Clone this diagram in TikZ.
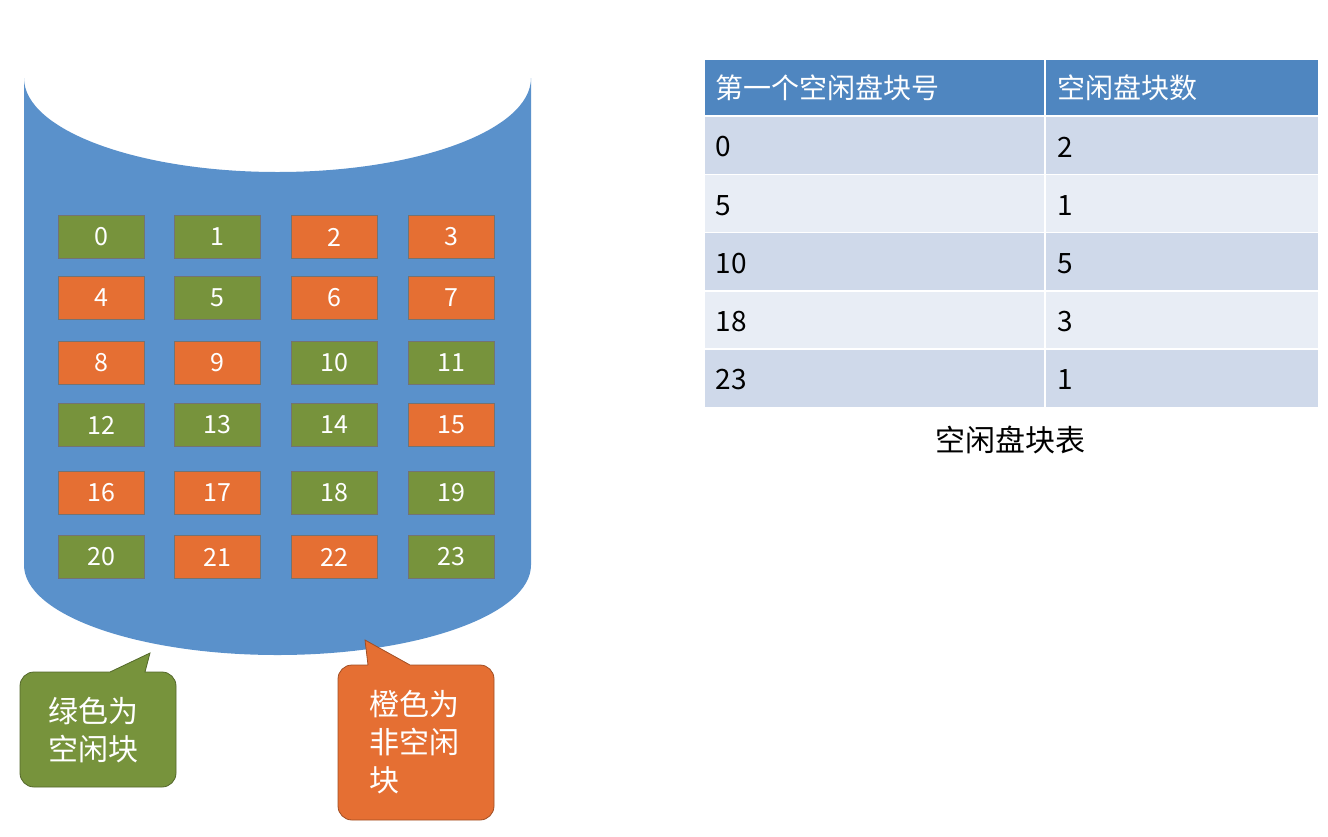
\documentclass[tikz,border=0pt]{standalone}
\usepackage{fontspec}
\setmainfont{Noto Sans CJK SC}
\usetikzlibrary{positioning, calc}
\definecolor{diskblue}{HTML}{5A91CB}
\definecolor{freegreen}{HTML}{77933C}
\definecolor{usedorange}{HTML}{E56F33}
\definecolor{headblue}{HTML}{4F86C0}
\definecolor{rowdark}{HTML}{CFD9EA}
\definecolor{rowlight}{HTML}{E8EDF5}
\begin{document}
\begin{tikzpicture}[x=1pt,y=-1pt,
  cell/.style = {draw=black!55, line width=0.8pt, minimum width=86pt, minimum height=43pt, inner sep=0pt,
    text=white, font=\fontsize{25}{28}\selectfont},
  tabtext/.style = {anchor=west, font=\fontsize{28}{32}\selectfont},
  note/.style = {line width=0.8pt}]
\useasboundingbox (0,0) rectangle (1328,836);
% disk
\fill[diskblue] (24,78) -- (24,565) arc[start angle=180,end angle=360,x radius=253.5,y radius=-90]
  -- (531,78) arc[start angle=0,end angle=180,x radius=253.5,y radius=94] -- cycle;
% blocks
\foreach \n/\c [count=\i from 0] in {0/g,1/g,2/o,3/o,4/o,5/g,6/o,7/o,8/o,9/o,10/g,11/g,
  12/g,13/g,14/g,15/o,16/o,17/o,18/g,19/g,20/g,21/o,22/o,23/g} {
  \pgfmathtruncatemacro\col{mod(\i,4)}
  \pgfmathtruncatemacro\row{div(\i,4)}
  \pgfmathsetmacro\yy{{237,298,363,425,493,557}[\row]}
  \if\c g\def\fc{freegreen}\else\def\fc{usedorange}\fi
  \node[cell, fill=\fc] (b\n) at ({101+116.7*\col},\yy) {\n};
}
% table
\fill[headblue] (705,60) rectangle (1318,116);
\foreach \r [count=\k from 0] in {0,1,2,3,4} {
  \pgfmathsetmacro\ya{116+58.2*\k}
  \pgfmathsetmacro\yb{116+58.2*(\k+1)}
  \ifodd\k\def\rc{rowlight}\else\def\rc{rowdark}\fi
  \fill[\rc] (705,\ya) rectangle (1318,\yb);
}
\foreach \k in {1,...,5} \draw[white, line width=1.5pt] (705,{58+58.2*\k}) -- (1318,{58+58.2*\k});
\draw[white, line width=2pt] (1045,60) -- (1045,407);
\node[tabtext, text=white] (h1) at (712,88) {第一个空闲盘块号};
\node[tabtext, text=white] (h2) at (1054,88) {空闲盘块数};
\foreach \a/\b [count=\k from 0] in {0/2,5/1,10/5,18/3,23/1} {
  \node[tabtext] (s\k) at (712,{147+58.2*\k}) {\a};
  \node[tabtext] (n\k) at (1054,{147+58.2*\k}) {\b};
}
\node[font=\fontsize{30}{34}\selectfont] (cap) at (1010,440) {空闲盘块表};
% callouts
\filldraw[note, fill=freegreen, draw=freegreen!70!black]
  (110,672) -- (150,653) -- (145,672) [rounded corners=14pt] -- (176,672) -- (176,787) -- (20,787)
  -- (20,672) -- (110,672);
\node[align=left, text=white, font=\fontsize{30}{38}\selectfont] (gnote) at (93,730) {绿色为\\空闲块};
\filldraw[note, fill=usedorange, draw=usedorange!70!black]
  (368,665) -- (365,640) -- (410,665) [rounded corners=14pt] -- (494,665) -- (494,820) -- (338,820)
  -- (338,665) -- (368,665);
\node[align=left, text=white, font=\fontsize{30}{38}\selectfont] (onote) at (414,742) {橙色为\\非空闲\\块};
\end{tikzpicture}
\end{document}
